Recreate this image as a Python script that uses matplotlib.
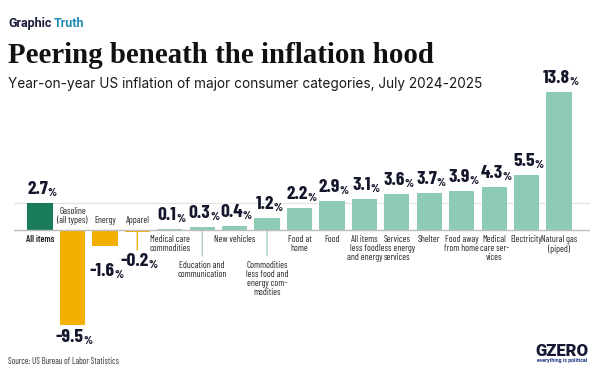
import matplotlib
matplotlib.use("Agg")
import matplotlib.pyplot as plt
from matplotlib.transforms import offset_copy

categories = [
    "All items", "Gasoline\n(all types)", "Energy", "Apparel",
    "Medical care\ncommodities", "Education and\ncommunication", "New vehicles",
    "Commodities\nless food and\nenergy com-\nmodities", "Food at\nhome", "Food",
    "All items\nless food\nand energy", "Services\nless energy\nservices", "Shelter",
    "Food away\nfrom home", "Medical\ncare ser-\nvices", "Electricity", "Natural gas\n(piped)",
]
values = [2.7, -9.5, -1.6, -0.2, 0.1, 0.3, 0.4, 1.2, 2.2, 2.9, 3.1, 3.6, 3.7, 3.9, 4.3, 5.5, 13.8]
value_labels = ["2.7", "-9.5", "-1.6", "-0.2", "0.1", "0.3", "0.4", "1.2", "2.2", "2.9",
                "3.1", "3.6", "3.7", "3.9", "4.3", "5.5", "13.8"]

# style settings
C_ALL = "#177b5c"
C_NEG = "#f4b000"
C_POS = "#8ecbb5"
C_TXT = "#14172b"
NARROW = ["Barlow Condensed", "DejaVu Sans"]
leader = {3: 18, 5: 26, 7: 26}          # category index -> leader length (px)
neg_label_gap = {1: 4, 2: 17, 3: 21}     # px below bar bottom

fig = plt.figure(figsize=(6.0, 3.82), dpi=100)
fig.patch.set_facecolor("white")

W, H = 600, 382
x0px, dx = 40.0, 32.44
xl, xr = -0.8, 16.95
ax = fig.add_axes([(x0px + xl * dx) / W, (H - 340) / H, (xr - xl) * dx / W, 260 / H])
ax.set_xlim(xl, xr)
ax.set_ylim(-11, 15)
ax.axis("off")

colors = [C_ALL if i == 0 else (C_NEG if v < 0 else C_POS) for i, v in enumerate(values)]
xs = list(range(len(values)))
ax.axhline(values[0], color="#e3e3e3", lw=0.9, zorder=0)
ax.bar(xs, values, width=0.78, color=colors, zorder=2)
ax.axhline(0, color="#bdbdbd", lw=1.0, zorder=3)

px2pt = 72 / 100

for i, (v, lab, cat) in enumerate(zip(values, value_labels, categories)):
    # leader lines
    if i in leader:
        start = min(v, 0)
        lc = C_NEG if v < 0 else "#a9cfc3"
        ax.annotate("", xy=(i, start), xytext=(0, -leader[i] * px2pt), textcoords="offset points",
                    arrowprops=dict(arrowstyle="-", color=lc, lw=1.0, shrinkA=0, shrinkB=0), zorder=1)
    # value labels
    if v >= 0:
        tr = offset_copy(ax.transData, fig=fig, x=-2.5 * px2pt, y=5 * px2pt, units="points")
        t = ax.text(i, v, lab, transform=tr, ha="center", va="bottom", fontsize=14,
                    fontweight="bold", family=NARROW, color=C_TXT)
    else:
        gap = neg_label_gap.get(i, 5)
        tr = offset_copy(ax.transData, fig=fig, x=-2.5 * px2pt, y=-gap * px2pt, units="points")
        t = ax.text(i, v, lab, transform=tr, ha="center", va="top", fontsize=14,
                    fontweight="bold", family=NARROW, color=C_TXT)
    ax.annotate("%", xy=(1.0, 0.0), xycoords=t, xytext=(-0.4, 0), textcoords="offset points",
                ha="left", va="bottom", fontsize=8.5, fontweight="bold", family=NARROW, color=C_TXT)
    # category labels
    if v < 0:
        ax.annotate(cat, xy=(i, 0), xytext=(0, 5 * px2pt), textcoords="offset points",
                    ha="center", va="bottom", fontsize=6.7, family=NARROW, color="#222222",
                    linespacing=1.0)
    else:
        off = leader.get(i, 0) + 5
        ax.annotate(cat, xy=(i, 0), xytext=(0, -off * px2pt), textcoords="offset points",
                    ha="center", va="top", fontsize=6.7, family=NARROW, color="#222222",
                    linespacing=1.0, fontweight="semibold" if i == 0 else "normal")

# header
t1 = fig.text(8 / W, 1 - 27 / H, "Graphic", fontsize=9, fontweight="bold",
              family=["Roboto", "DejaVu Sans"], color="#1b1d3d", va="baseline")
fig.canvas.draw()
bb = t1.get_window_extent()
fig.text((bb.x1 + 2) / W, 1 - 27 / H, "Truth", fontsize=9, fontweight="bold",
         family=["Roboto", "DejaVu Sans"], color="#1e8db3", va="baseline")
fig.text(8 / W, 1 - 63 / H, "Peering beneath the inflation hood", fontsize=20.8,
         fontweight="bold", family=["Liberation Serif", "DejaVu Serif"], color="#111111",
         va="baseline")
fig.text(8 / W, 1 - 88 / H, "Year-on-year US inflation of major consumer categories, July 2024-2025",
         fontsize=9.8, family=["Inter", "DejaVu Sans"], color="#1a1a1a", va="baseline")

# footer
fig.text(8 / W, 1 - 364 / H, "Source: US Bureau of Labor Statistics", fontsize=6.3,
         family=NARROW, color="#333333", va="baseline")
fig.text(562 / W, 1 - 356 / H, "GZERO", fontsize=12, fontweight="black",
         family=["Roboto", "DejaVu Sans"], color="#141833", ha="center", va="baseline")
fig.text(562 / W, 1 - 362 / H, "everything is political", fontsize=3.8, fontweight="bold",
         family=["Roboto", "DejaVu Sans"], color="#1d3a8a", ha="center", va="baseline")

fig.savefig("out.png", dpi=100)
